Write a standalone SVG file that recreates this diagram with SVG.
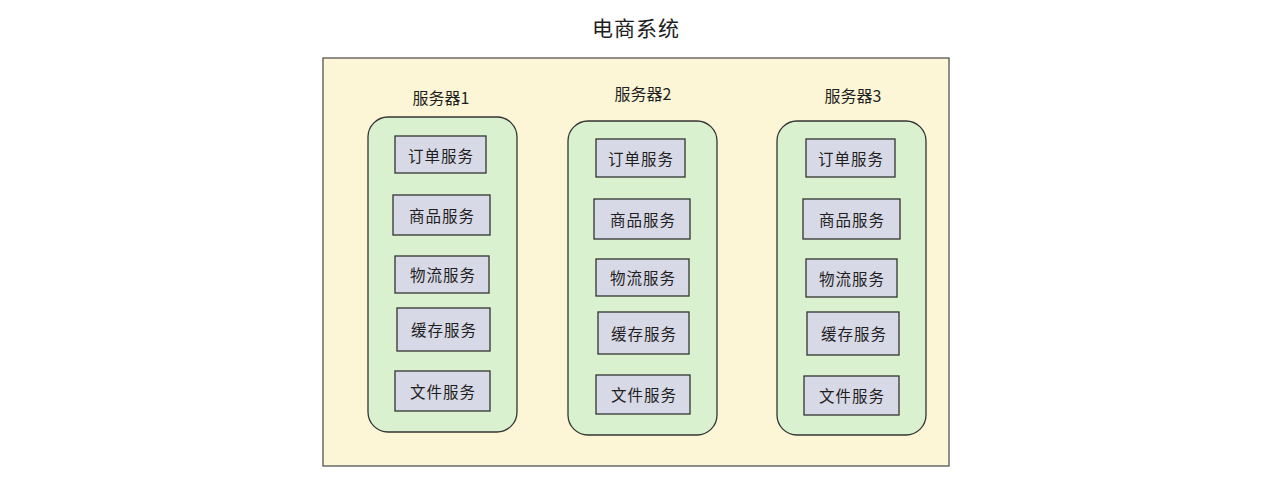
<svg xmlns="http://www.w3.org/2000/svg" width="1280" height="488" viewBox="0 0 1280 488">
<style>
.t{font-family:"Noto Sans CJK SC","Noto Sans",sans-serif;fill:#1e1e1e;text-anchor:middle;dominant-baseline:central}
.title{font-size:21px;letter-spacing:1px}
.lbl{font-size:16px}
.svc{font-size:15.5px;letter-spacing:1px}
.outer{fill:#fcf6d6;stroke:#555;stroke-width:1.3}
.srv{fill:#daf1cf;stroke:#333;stroke-width:1.3}
.box{fill:#d8d9e6;stroke:#333;stroke-width:1.3}
</style>
<rect width="1280" height="488" fill="#ffffff"/>
<g id="title"><text class="t title" x="636" y="27">电商系统</text></g>
<g id="system"><rect class="outer" x="323" y="58" width="626" height="408"/></g>
<g id="server1">
<text class="t lbl" x="441" y="97">服务器1</text>
<rect class="srv" x="368" y="117" width="149" height="315" rx="20"/>
</g>
<g id="server2">
<text class="t lbl" x="643" y="93">服务器2</text>
<rect class="srv" x="568" y="121" width="149" height="314" rx="20"/>
</g>
<g id="server3">
<text class="t lbl" x="853" y="95">服务器3</text>
<rect class="srv" x="777" y="121" width="149" height="314" rx="20"/>
</g>
<g id="s1-order"><rect class="box" x="395" y="136" width="91" height="37"/><text class="t svc" x="441" y="155">订单服务</text></g>
<g id="s1-goods"><rect class="box" x="393" y="195" width="97" height="40"/><text class="t svc" x="442" y="215">商品服务</text></g>
<g id="s1-logistics"><rect class="box" x="395" y="256" width="94" height="37"/><text class="t svc" x="443" y="274">物流服务</text></g>
<g id="s1-cache"><rect class="box" x="397" y="308" width="93" height="43"/><text class="t svc" x="444" y="329">缓存服务</text></g>
<g id="s1-file"><rect class="box" x="395" y="371" width="95" height="40"/><text class="t svc" x="443" y="391">文件服务</text></g>
<g id="s2-order"><rect class="box" x="596" y="139" width="89" height="38"/><text class="t svc" x="641" y="158">订单服务</text></g>
<g id="s2-goods"><rect class="box" x="594" y="199" width="96" height="40"/><text class="t svc" x="643" y="219">商品服务</text></g>
<g id="s2-logistics"><rect class="box" x="596" y="259" width="93" height="37"/><text class="t svc" x="643" y="277">物流服务</text></g>
<g id="s2-cache"><rect class="box" x="598" y="312" width="91" height="42"/><text class="t svc" x="644" y="333">缓存服务</text></g>
<g id="s2-file"><rect class="box" x="596" y="375" width="94" height="39"/><text class="t svc" x="644" y="394">文件服务</text></g>
<g id="s3-order"><rect class="box" x="806" y="139" width="89" height="38"/><text class="t svc" x="851" y="158">订单服务</text></g>
<g id="s3-goods"><rect class="box" x="803" y="199" width="97" height="40"/><text class="t svc" x="852" y="219">商品服务</text></g>
<g id="s3-logistics"><rect class="box" x="806" y="259" width="91" height="38"/><text class="t svc" x="852" y="278">物流服务</text></g>
<g id="s3-cache"><rect class="box" x="807" y="312" width="92" height="43"/><text class="t svc" x="854" y="333">缓存服务</text></g>
<g id="s3-file"><rect class="box" x="804" y="376" width="95" height="39"/><text class="t svc" x="852" y="395">文件服务</text></g>
<g id="connectors"></g>
</svg>
